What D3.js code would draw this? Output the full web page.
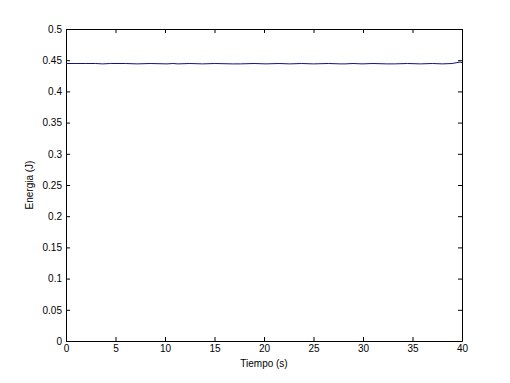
<!DOCTYPE html>
<html lang="es">
<head>
<meta charset="UTF-8">
<title>Energia</title>
<script src="https://cdn.jsdelivr.net/npm/d3@7.8.5/dist/d3.min.js"></script>
<style>
  body { margin: 0; background: #fff; }
  text { font-family: "Liberation Sans", Arial, sans-serif; font-size: 10px; fill: #000; }
</style>
</head>
<body>
<div id="chart"></div>
<script>
// energy over time
const tiempo = [0, 1, 2, 3, 3.7, 4.5, 6, 7.2, 8.5, 10.2, 10.8, 11.3, 12.5, 13.8, 15, 16.8, 17.6, 19, 20.2, 21.5, 22.6, 23.8, 25, 26.5, 27.7, 28.2, 29, 29.9, 31, 32.4, 33.2, 34.5, 35.8, 37, 38, 39, 39.8, 40];
const energia = [0.4447, 0.4447, 0.4447, 0.4447, 0.4441, 0.4447, 0.4447, 0.4441, 0.4447, 0.4441, 0.4447, 0.4441, 0.4447, 0.4441, 0.4447, 0.4441, 0.4441, 0.4447, 0.4441, 0.4447, 0.4441, 0.4447, 0.4441, 0.4447, 0.4441, 0.4441, 0.4447, 0.4441, 0.4447, 0.4441, 0.4441, 0.4447, 0.4441, 0.4447, 0.4441, 0.4447, 0.4470, 0.4462];
const xTicks = [0, 5, 10, 15, 20, 25, 30, 35, 40];
const yTicks = [0, 0.05, 0.1, 0.15, 0.2, 0.25, 0.3, 0.35, 0.4, 0.45, 0.5];

const width = 510, height = 383;
const margin = {top: 29, right: 48, bottom: 42, left: 66};

const svg = d3.select('#chart').append('svg')
  .attr('width', width).attr('height', height);

const x = d3.scaleLinear().domain([0, 40]).range([margin.left, width - margin.right]);
const y = d3.scaleLinear().domain([0, 0.5]).range([height - margin.bottom, margin.top]);

const tl = 4;
// axes: ticks point inward, box on
svg.append('g').attr('transform', `translate(0,${y(0)})`)
  .call(d3.axisBottom(x).tickValues(xTicks).tickSizeInner(-tl).tickSizeOuter(0).tickPadding(4).tickFormat(d3.format('d')));
svg.append('g').attr('transform', `translate(0,${y(0.5)})`)
  .call(d3.axisTop(x).tickValues(xTicks).tickSizeInner(-tl).tickSizeOuter(0).tickFormat(''));
svg.append('g').attr('transform', `translate(${x(0)},0)`)
  .call(d3.axisLeft(y).tickValues(yTicks).tickSizeInner(-tl).tickSizeOuter(0).tickPadding(4).tickFormat(d => String(+d.toFixed(2))));
svg.append('g').attr('transform', `translate(${x(40)},0)`)
  .call(d3.axisRight(y).tickValues(yTicks).tickSizeInner(-tl).tickSizeOuter(0).tickFormat(''));

svg.selectAll('.domain').attr('stroke', '#000');
svg.selectAll('.tick line').attr('stroke', '#000');
svg.selectAll('.tick text').style('font-family', '"Liberation Sans", Arial, sans-serif').style('font-size', '10px');

const line = d3.line().x((d, i) => x(tiempo[i])).y(d => y(d));
svg.append('path').datum(energia)
  .attr('fill', 'none').attr('stroke', '#11118c').attr('stroke-width', 1)
  .attr('d', line);

svg.append('text').attr('x', (x(0) + x(40)) / 2).attr('y', 367)
  .attr('text-anchor', 'middle').text('Tiempo (s)');
svg.append('text').attr('transform', `translate(33,${(y(0) + y(0.5)) / 2}) rotate(-90)`)
  .attr('text-anchor', 'middle').text('Energia (J)');
</script>
</body>
</html>
